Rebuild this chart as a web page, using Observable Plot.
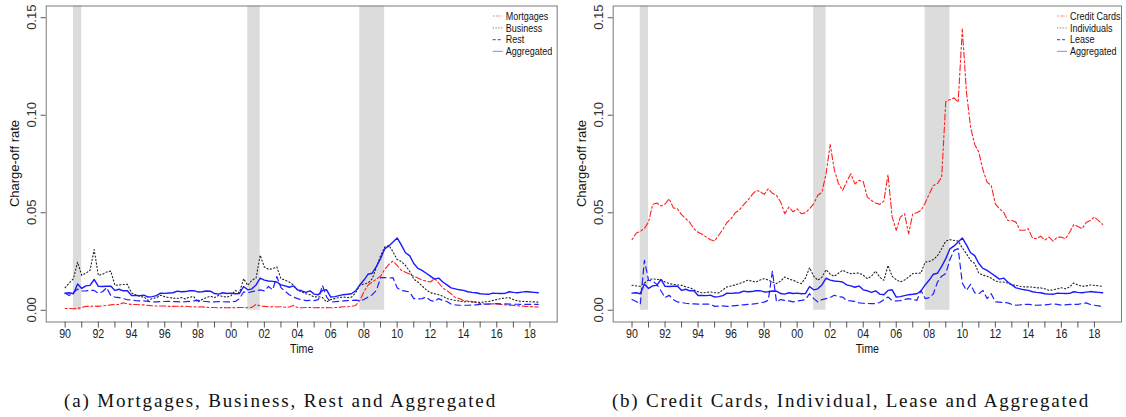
<!DOCTYPE html>
<html><head><meta charset="utf-8">
<script src="https://cdn.jsdelivr.net/npm/d3@7"></script>
<script src="https://cdn.jsdelivr.net/npm/@observablehq/plot@0.6"></script>
<style>
body{margin:0;background:#fff;}
#wrap{width:1126px;height:417px;position:relative;overflow:hidden;background:#fff;}
#plots{display:flex;}
#plots svg{overflow:visible;display:block;}
.cap{position:absolute;top:390px;font-family:"Liberation Serif","Times New Roman",serif;font-size:19px;white-space:nowrap;color:#111;line-height:22px;}
</style></head><body>
<div id="wrap"><div id="plots"></div>
<div class="cap" id="capA"></div><div class="cap" id="capB"></div></div>
<script>
// Quarterly charge-off rates (per mille), 1990Q1 .. 2018Q3
const startYear = 1990;
const mortgages = [0.9,0.9,0.8,0.9, 1.5,2.0,2.0,2.2, 2.0,2.3,2.5,2.8, 3.0,3.0,3.9,3.3, 3.0,3.0,2.8,2.8, 2.5,2.3,2.2,2.2, 2.2,2.0,2.0,2.1, 2.0,2.1,1.8,1.8, 1.7,1.8,1.5,1.4, 1.4,1.3,1.4,1.3, 1.4,1.3,1.4,1.4, 1.3,1.5,3.0,2.2, 2.0,1.8,1.9,1.7, 1.8,1.6,1.7,2.5, 1.4,1.3,1.4,1.5, 1.3,1.4,1.3,1.4, 1.3,1.4,1.5,1.8, 1.8,2.0,2.5,5.0, 9.5,13.0,14.5,16.0, 17.5,21.0,23.5,25.2, 23.0,20.5,19.5,18.5, 17.5,16.5,15.5,15.0, 14.5,16.3,14.0,11.5, 10.0,8.5,6.5,6.0, 5.0,4.8,4.5,4.0, 3.5,3.3,3.2,3.3, 3.2,3.0,2.8,2.6, 2.5,2.3,2.2,2.0, 1.9,1.8,1.7];
const business = [11.6,14.0,16.2,24.7, 17.9,19.0,20.5,31.1, 17.9,18.5,19.6,20.1, 12.8,13.0,13.2,13.3, 8.9,8.0,7.0,6.8, 5.1,6.0,6.5,7.7, 7.0,6.5,6.3,6.0, 6.5,5.8,6.8,7.0, 4.3,5.5,6.5,7.2, 6.5,7.7,7.0,6.8, 7.5,10.2,9.0,16.2, 12.8,15.4,16.5,28.2, 22.2,21.0,21.3,22.2, 16.2,15.5,14.5,13.0, 10.2,9.5,8.5,8.0, 6.8,7.0,6.5,4.3, 5.5,6.0,6.5,6.8, 6.5,6.8,9.0,12.8, 13.5,14.0,16.2,22.0, 28.0,32.4,33.3,30.0, 26.0,25.0,23.0,20.0, 16.0,14.5,12.5,10.5, 9.0,8.5,8.0,7.2, 6.0,5.5,5.0,4.8, 4.3,4.5,4.2,4.3, 4.0,4.3,4.5,5.0, 5.5,6.0,6.3,6.5, 5.5,4.8,4.6,4.5, 4.4,4.3,4.2];
const rest = [8.8,7.6,9.0,10.9, 9.9,10.0,10.2,10.2, 8.8,9.5,11.6,7.6, 6.8,6.5,6.0,5.4, 5.3,5.0,4.8,4.8, 4.6,4.3,4.3,4.5, 4.5,4.6,4.5,4.4, 4.3,4.4,4.6,4.8, 5.1,4.7,4.5,4.3, 4.3,4.5,4.4,4.3, 4.3,4.5,6.0,9.4, 9.0,9.6,9.9,10.5, 9.9,12.2,10.5,17.3, 11.6,9.7,8.0,6.8, 6.0,5.4,5.0,5.1, 5.0,5.5,12.8,6.8, 4.3,4.4,4.6,4.8, 5.0,5.1,5.2,5.1, 5.5,6.8,8.0,10.2, 16.7,16.8,16.5,16.7, 11.6,10.2,9.8,9.4, 6.0,5.8,6.0,6.8, 5.1,4.5,6.0,5.0, 4.5,3.1,2.8,2.6, 2.6,2.6,2.7,2.8, 3.0,3.1,3.2,3.3, 3.4,3.3,3.3,3.2, 3.1,3.1,3.0,3.1, 3.0,3.0,3.0];
const aggregated = [8.8,9.0,8.5,13.5, 11.2,12.5,12.8,15.8, 12.3,12.2,12.3,12.4, 10.2,10.8,10.0,10.0, 7.6,7.6,7.5,7.8, 6.8,7.0,7.5,8.8, 8.7,8.9,9.0,9.8, 9.5,9.6,10.0,10.1, 9.4,9.5,9.9,9.8, 8.6,8.3,9.0,8.6, 8.8,8.5,8.6,12.2, 10.5,11.0,13.0,16.5, 15.5,15.0,14.8,14.5, 13.0,12.5,11.8,12.5, 10.5,10.0,9.2,10.0, 8.3,8.0,10.2,10.5, 6.8,7.0,7.5,8.0, 8.2,8.5,10.0,13.0, 15.5,18.5,19.0,22.5, 26.5,31.5,33.0,35.0, 37.1,33.5,29.5,28.0, 24.0,21.5,20.5,19.0, 17.5,16.0,16.5,14.5, 13.0,11.5,11.0,10.5, 10.2,9.5,9.2,9.0, 8.5,8.3,8.2,8.8, 8.7,8.6,8.7,9.5, 9.2,9.0,9.3,9.6, 9.4,9.2,9.0];
const creditCards = [36.2,39.5,40.5,42.0, 45.2,54.3,55.0,53.5, 54.5,57.2,52.5,52.0, 49.0,47.0,45.0,41.8, 40.0,39.0,37.5,36.2, 35.5,38.5,41.5,45.0, 47.0,50.0,51.5,54.0, 56.3,59.0,61.4,61.0, 59.4,62.3,60.0,58.9, 55.5,49.5,52.9,50.5, 52.0,49.5,50.0,52.0, 54.6,59.0,60.5,70.0, 85.0,72.0,65.0,61.4, 66.0,70.0,64.8,66.6, 66.0,58.0,56.3,55.0, 54.3,56.0,69.6,48.0, 41.0,47.8,49.5,39.2, 49.5,50.0,51.2,55.0, 59.7,64.0,65.0,68.3, 107.0,108.0,108.9,106.7, 144.2,112.0,93.9,85.0, 81.1,72.0,65.7,64.0, 54.6,52.0,50.3,46.1, 46.0,45.2,41.0,41.0, 41.8,37.0,36.7,38.0, 36.0,37.5,35.5,37.5, 37.5,36.7,40.0,44.0, 43.0,41.8,45.0,46.0, 47.8,46.0,44.0];
const individuals = [12.8,12.5,12.3,14.0, 15.5,16.2,15.8,15.7, 14.5,13.7,13.3,13.0, 12.8,12.0,11.6,10.5, 9.5,8.9,9.2,9.4, 9.0,8.9,10.5,12.0, 12.5,13.0,13.7,14.5, 15.4,15.0,14.5,15.5, 16.2,15.5,14.5,13.7, 15.0,17.1,16.0,15.4, 14.5,13.7,16.5,21.8, 17.5,15.4,17.0,20.8, 18.5,17.4,19.0,20.5, 19.5,18.8,19.0,19.1, 18.0,16.2,17.5,20.1, 17.0,15.4,23.0,17.5, 15.7,14.5,15.5,17.0, 18.8,19.0,19.1,24.7, 25.0,26.0,28.0,31.6, 35.5,36.2,35.8,35.5, 32.0,29.0,25.6,24.0, 19.0,18.0,17.5,16.5, 15.0,14.5,14.5,14.0, 13.0,12.8,12.3,12.0, 12.0,11.9,11.5,11.5, 11.0,10.2,10.5,11.0, 11.6,11.0,12.0,14.0, 13.0,12.3,12.5,13.0, 12.8,12.5,12.3];
const lease = [5.5,4.5,3.1,25.6, 15.4,15.0,13.3,10.0, 6.5,7.7,5.5,4.3, 4.0,3.6,3.4,3.3, 3.2,3.1,3.2,3.1, 2.0,2.1,2.3,2.0, 2.2,2.4,2.6,2.8, 3.0,3.1,3.4,3.8, 4.2,5.1,20.1,4.3, 5.5,5.1,4.8,4.3, 4.8,5.1,5.5,8.5, 6.0,4.3,5.5,6.0, 6.5,7.7,7.0,6.8, 5.0,4.8,4.5,3.8, 3.6,3.5,3.4,3.4, 4.0,5.5,6.8,5.0, 4.8,5.0,5.5,6.0, 5.5,5.1,10.2,6.0, 6.5,8.5,14.5,17.5, 18.8,26.0,30.7,31.6, 14.0,10.2,13.3,9.0, 8.5,10.2,6.0,8.5, 4.3,4.2,4.0,3.8, 3.0,2.6,2.8,3.1, 3.0,2.8,2.6,2.7, 2.8,3.0,3.4,3.0, 2.6,2.8,3.0,3.1, 3.0,3.5,3.8,3.0, 2.6,2.3,2.0];
const recessions = [{start:1990.5,end:1991.0},{start:2001.0,end:2001.75},{start:2007.75,end:2009.25}];
const xTickYears = d3.range(1990, 2019);
const yTicks = [0, 0.05, 0.10, 0.15];
const yLabel = "Charge-off rate";
const xLabel = "Time";
const captions = ["(a) Mortgages, Business, Rest and Aggregated", "(b) Credit Cards, Individual, Lease and Aggregated"];

const toRows = (vals) => vals.map((v, i) => ({t: startYear + i / 4, v: v / 1000}));

const styles = {
  red:   {stroke: "#ff1f1f", strokeDasharray: "2,2.5,6,2.5", strokeWidth: 1.1},
  black: {stroke: "#222", strokeDasharray: "1.2,2.3", strokeWidth: 1.1},
  blueD: {stroke: "#2020ff", strokeDasharray: "6,4", strokeWidth: 1.2},
  blue:  {stroke: "#1a1aff", strokeWidth: 1.4}
};
const legendStyles = {
  red:   {stroke: "#ff8a8a", dash: "2,1.5,4,1.5"},
  black: {stroke: "#9a9a9a", dash: "1.3,1.5"},
  blueD: {stroke: "#5c5cff", dash: "3,2"},
  blue:  {stroke: "#9a9aff", dash: null}
};

const xDomain = [1990 - 0.04 * 28.5, 2018.5 + 0.04 * 28.5];
const yDomain = [-0.006, 0.156];
const sans = "Liberation Sans, Arial, sans-serif";
const squeeze = 0.82; // horizontally condensed glyphs, as in the reference

function panel(series, mLeft, mRight) {
  const W = 563, H = 370, mTop = 5.5, mBottom = 48.5;
  const marks = [
    Plot.rect(recessions, {x1: "start", x2: "end", y1: 0, y2: yDomain[1], fill: "#dcdcdc"}),
    ...series.map(s => Plot.line(toRows(s.values), {x: "t", y: "v", ...styles[s.style]})),
    Plot.frame({stroke: "#7a7a7a", strokeWidth: 1}),
    Plot.axisX({ticks: xTickYears, tickSize: 6, tickPadding: 1, stroke: "#555",
      tickFormat: d => d % 2 === 0 ? String(d % 100).padStart(2, "0") : "",
      label: null, fontSize: 13, fill: "#222"}),
    Plot.axisY({ticks: yTicks, tickSize: 5, stroke: "#555", tickFormat: () => "", label: null}),
    Plot.text([xLabel], {frameAnchor: "bottom", dy: 31, text: d => d, fontSize: 13, fill: "#111"})
  ];
  const svg = Plot.plot({
    width: W, height: H,
    marginLeft: mLeft, marginRight: mRight, marginTop: mTop, marginBottom: mBottom,
    x: {domain: xDomain},
    y: {domain: yDomain},
    style: {fontFamily: sans, fontSize: "13px", color: "#333", background: "#fff", overflow: "visible"},
    marks
  });
  const yScale = svg.scale("y");
  const sel = d3.select(svg);
  // condense horizontal texts (x tick labels, "Time")
  sel.selectAll('g[aria-label="x-axis tick label"] text, g[aria-label="text"] text').each(function() {
    const t = this.getAttribute("transform") || "";
    this.setAttribute("transform", t + ` scale(${squeeze},1)`);
  });
  // rotated y tick labels (R style, las = 0)
  const gy = sel.append("g").attr("font-family", sans).attr("font-size", 13)
    .attr("text-anchor", "middle").attr("fill", "#333");
  yTicks.forEach(v => {
    gy.append("text")
      .attr("transform", `translate(${mLeft - 14},${yScale.apply(v)}) rotate(-90)`)
      .attr("dominant-baseline", "central")
      .text(v.toFixed(2));
  });
  gy.append("text")
    .attr("transform", `translate(${mLeft - 31},${(mTop + H - mBottom) / 2}) rotate(-90)`)
    .attr("dominant-baseline", "central").attr("fill", "#111")
    .text(yLabel);
  // legend in the top-right corner
  const right = W - mRight;
  const g = sel.append("g").attr("font-family", sans).attr("font-size", 11).attr("text-anchor", "start");
  series.forEach((s, i) => {
    const y = 16 + i * 11.8;
    const ls = legendStyles[s.style];
    g.append("line").attr("x1", right - 64).attr("x2", right - 54).attr("y1", y).attr("y2", y)
      .attr("stroke", ls.stroke).attr("stroke-width", 1.2).attr("stroke-dasharray", ls.dash);
    g.append("text").attr("transform", `translate(${right - 51},${y}) scale(${squeeze},1)`)
      .attr("dominant-baseline", "central").attr("fill", "#111").text(s.name);
  });
  return svg;
}

const left = panel([
  {name: "Mortgages", values: mortgages, style: "red"},
  {name: "Business", values: business, style: "black"},
  {name: "Rest", values: rest, style: "blueD"},
  {name: "Aggregated", values: aggregated, style: "blue"}
], 45.7, 6.3);
const rightP = panel([
  {name: "Credit Cards", values: creditCards, style: "red"},
  {name: "Individuals", values: individuals, style: "black"},
  {name: "Lease", values: lease, style: "blueD"},
  {name: "Aggregated", values: aggregated, style: "blue"}
], 49.7, 5);
document.getElementById("plots").append(left, rightP);

function setCap(id, text, x0, x1) {
  const el = document.getElementById(id);
  el.textContent = text;
  const w = el.getBoundingClientRect().width;
  const ls = ((x1 - x0) - w) / text.length;
  el.style.letterSpacing = ls + "px";
  el.style.left = x0 + "px";
}
setCap("capA", captions[0], 64, 497);
setCap("capB", captions[1], 612, 1090);
</script></body></html>
